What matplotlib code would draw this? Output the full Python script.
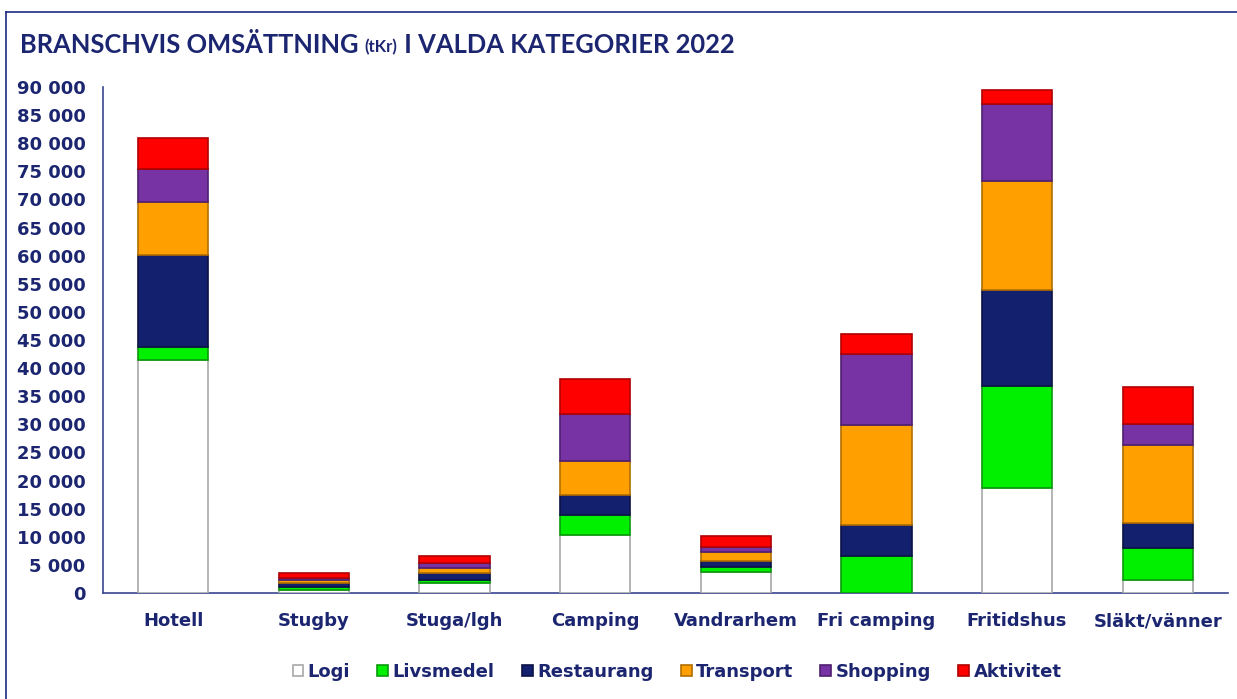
import matplotlib
matplotlib.use("Agg")
import matplotlib.pyplot as plt
import numpy as np
from matplotlib.lines import Line2D

categories = ["Hotell", "Stugby", "Stuga/lgh", "Camping", "Vandrarhem",
              "Fri camping", "Fritidshus", "Släkt/vänner"]
series_names = ["Logi", "Livsmedel", "Restaurang", "Transport", "Shopping", "Aktivitet"]

logi       = [41400, 500, 1700, 10400, 3800, 0, 18600, 2300]
livsmedel  = [2400, 500, 600, 3500, 800, 6600, 18200, 5650]
restaurang = [16300, 700, 1200, 3500, 1100, 5500, 17100, 4450]
transport  = [9500, 700, 900, 6100, 1600, 17800, 19300, 14000]
shopping   = [5900, 200, 1000, 8300, 800, 12600, 13800, 3600]
aktivitet  = [5500, 900, 1100, 6200, 2000, 3500, 2500, 6700]

yticks = [0, 5000, 10000, 15000, 20000, 25000, 30000, 35000, 40000, 45000,
          50000, 55000, 60000, 65000, 70000, 75000, 80000, 85000, 90000]
ytick_labels = ["0", "5 000", "10 000", "15 000", "20 000", "25 000", "30 000",
                "35 000", "40 000", "45 000", "50 000", "55 000", "60 000",
                "65 000", "70 000", "75 000", "80 000", "85 000", "90 000"]

title_main = "BRANSCHVIS OMSÄTTNING "
title_small = "(tKr)"
title_end = " I VALDA KATEGORIER 2022"

colors = ["#ffffff", "#00f000", "#13206e", "#ffa000", "#7733a3", "#ff0000"]
edges = ["#a8a8a8", "#0a9a0a", "#0a1245", "#b06e00", "#4e1f70", "#b00000"]
navy = "#1c2670"
tick_font = ["DejaVu Sans"]

plt.rcParams["font.family"] = ["Lato", "DejaVu Sans"]

W, H = 1237, 699
fig = plt.figure(figsize=(W / 100, H / 100), dpi=100)
ax = fig.add_axes([103 / W, 1 - 593 / H, (1228 - 103) / W, (593 - 87) / H])

series = [logi, livsmedel, restaurang, transport, shopping, aktivitet]
x = np.arange(len(categories))
bottom = np.zeros(len(categories))
for vals, name, c, e in zip(series, series_names, colors, edges):
    v = np.array(vals, dtype=float)
    ax.bar(x, v, width=0.5, bottom=bottom, color=c, edgecolor=e,
           linewidth=1.2, label=name, zorder=3)
    bottom += v

ax.set_xlim(-0.5, len(categories) - 0.5)
ax.set_ylim(0, 90000)
ax.set_yticks(yticks)
ax.set_yticklabels(ytick_labels)
ax.set_xticks(x)
ax.set_xticklabels(categories)
for s in ["top", "right"]:
    ax.spines[s].set_visible(False)
for s in ["left", "bottom"]:
    ax.spines[s].set_color("#3a4690")
    ax.spines[s].set_linewidth(1.2)
ax.tick_params(axis="both", length=0, colors=navy, labelsize=13)
ax.tick_params(axis="y", pad=12.5)
ax.tick_params(axis="x", pad=14)
for lbl in ax.get_xticklabels() + ax.get_yticklabels():
    lbl.set_fontweight("bold")
    lbl.set_color(navy)
    lbl.set_family(tick_font)

# Title
t1 = fig.text(20 / W, 1 - 45 / H, title_main, fontsize=18.4, fontweight="bold",
              color=navy, va="center", ha="left")
fig.canvas.draw()
r = fig.canvas.get_renderer()
bb = t1.get_window_extent(r)
t2 = fig.text(bb.x1 / W, 1 - 47 / H, title_small, fontsize=12, fontweight="bold",
              color=navy, va="center", ha="left")
bb2 = t2.get_window_extent(r)
fig.text(bb2.x1 / W, 1 - 45 / H, title_end, fontsize=18.4, fontweight="bold",
         color=navy, va="center", ha="left")

# Frame lines (left and top)
fig.add_artist(Line2D([6 / W, 6 / W], [0, 1 - 12 / H], color="#1c2a80", lw=1.2,
                      transform=fig.transFigure))
fig.add_artist(Line2D([6 / W, 1], [1 - 12 / H, 1 - 12 / H], color="#1c2a80", lw=1.2,
                      transform=fig.transFigure))

handles, labels = ax.get_legend_handles_labels()
leg = fig.legend(handles, labels, loc="center", bbox_to_anchor=(677 / W, 1 - 672 / H),
                 ncol=6, frameon=False, fontsize=13, handlelength=0.6,
                 handleheight=0.6, handletextpad=0.25, columnspacing=1.5,
                 prop={"family": tick_font, "weight": "bold", "size": 13})
for txt in leg.get_texts():
    txt.set_color(navy)

fig.savefig("out.png", dpi=100)
